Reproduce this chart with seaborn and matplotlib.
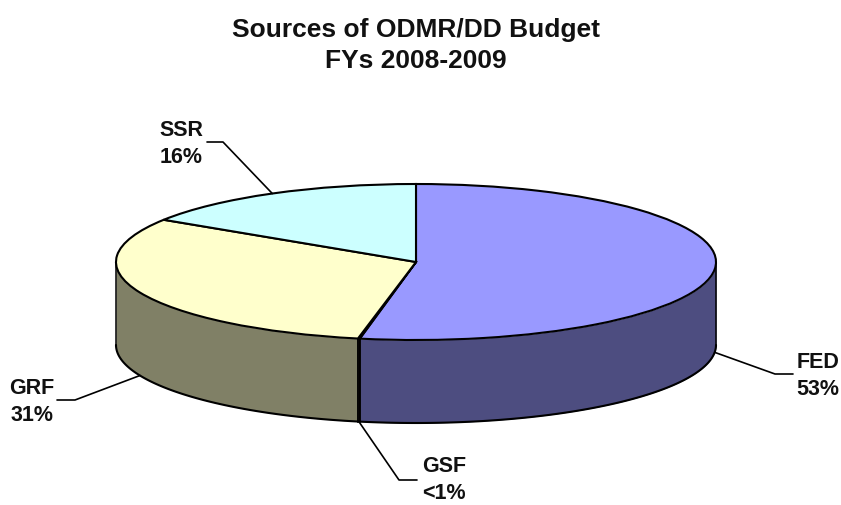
#!/usr/bin/env python3

import numpy as np
import seaborn as sns
import matplotlib.pyplot as plt

sources = ["FED", "GSF", "GRF", "SSR"]
shares = [53.0, 0.1, 31.0, 15.9]
share_labels = ["53%", "<1%", "31%", "16%"]
top_colors = ["#9999FF", "#993366", "#FFFFCC", "#CCFFFF"]
side_colors = ["#4D4D80", "#4D1A33", "#808066", "#666680"]

W, H = 841, 506
CX, CY, RX, RY, DEPTH = 416, 263, 300, 78, 83


def px(x, y):
    # figure pixels to pie units
    return (x - CX) / RX, (CY - y) / RY


sns.set_theme(style="white")
plt.rcParams["font.family"] = ["Liberation Sans", "DejaVu Sans"]
plt.rcParams["font.weight"] = "bold"

fig = plt.figure(figsize=(W / 100, H / 100), dpi=100)
ax = fig.add_axes([0, 0, 1, 1])

ax.pie(
    shares,
    colors=top_colors,
    startangle=90,
    counterclock=False,
    radius=1,
    wedgeprops={"edgecolor": "black", "linewidth": 1.5, "zorder": 3},
)
ax.set_aspect("auto")
ax.set_xlim(px(0, 0)[0], px(W, 0)[0])
ax.set_ylim(px(0, H)[1], px(0, 0)[1])
ax.axis("off")

depth = DEPTH / RY
edges = np.cumsum([0] + shares) / sum(shares) * 360

# side wall, only the front half of the rim shows
for start, end, color in zip(edges[:-1], edges[1:], side_colors):
    a, b = max(start, 90), min(end, 270)
    if a >= b:
        continue
    t = np.radians(np.linspace(a, b, 120))
    x, y = np.sin(t), np.cos(t)
    ax.fill_between(x, y, y - depth, color=color, lw=0, zorder=1)
    ax.plot(x, y - depth, color="black", lw=1.5, zorder=2)
    for e in (a, b):
        r = np.radians(e)
        ax.plot([np.sin(r)] * 2, [np.cos(r), np.cos(r) - depth],
                color="black", lw=1.1, zorder=2)

# leader elbow, leader end, text centre (pixels)
leaders = {
    "FED": ((775, 375), (793, 375), (818, 376)),
    "GSF": ((399, 481), (417, 481), (444, 480)),
    "GRF": ((75, 401), (57, 401), (32, 402)),
    "SSR": ((223, 143), (207, 143), (181, 144)),
}

for name, pct, start, end in zip(sources, share_labels, edges[:-1], edges[1:]):
    mid = np.radians((start + end) / 2)
    x0, y0 = np.sin(mid), np.cos(mid)
    if np.cos(mid) < 0:
        y0 -= depth
    elbow, tail, text_at = leaders[name]
    xs, ys = zip((x0, y0), px(*elbow), px(*tail))
    ax.plot(xs, ys, color="black", lw=1.2, zorder=4)
    tx, ty = px(*text_at)
    ax.text(tx, ty, f"{name}\n{pct}", ha="center", va="center", fontsize=15.5,
            fontweight="bold", color="#111111", linespacing=1.42)

fig.text(416 / W, 1 - 45.5 / H, "Sources of ODMR/DD Budget\nFYs 2008-2009",
         ha="center", va="center", fontsize=19, fontweight="bold",
         color="#111111", linespacing=1.32)

fig.savefig("out.png", dpi=100, facecolor="white")
plt.close()
